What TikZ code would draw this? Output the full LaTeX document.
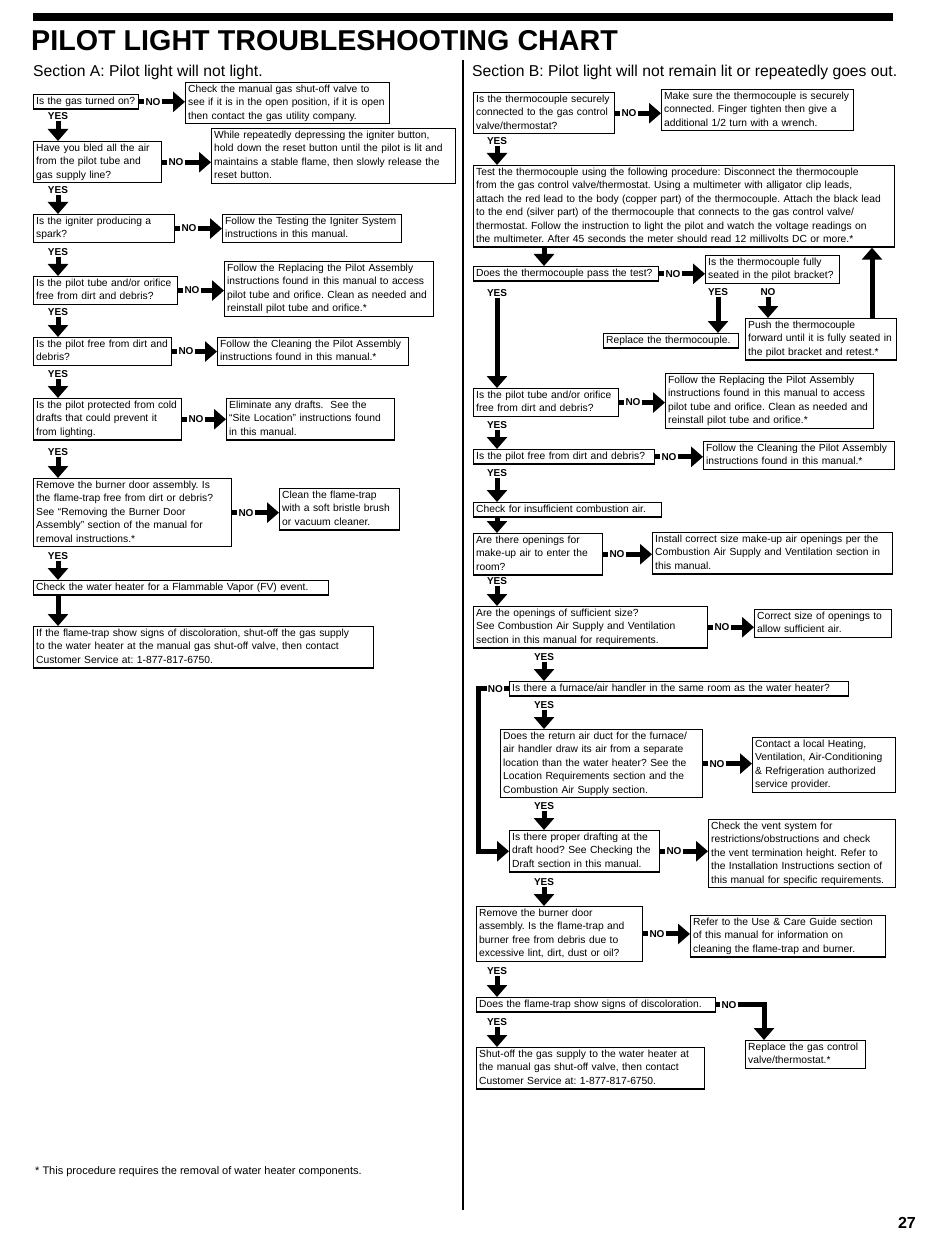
\documentclass[tikz,border=0pt]{standalone}
\usepackage{fontspec}
\setmainfont{Liberation Sans}
\usetikzlibrary{arrows.meta}
\usetikzlibrary{positioning}

\begin{document}
\begin{tikzpicture}[
      % un punto = un pixel della pagina, y verso il basso
      x=1pt,
      y=-1pt,
      line join=miter
  ]

  \tikzset{
      qbox/.style={draw, line width=1.3pt, anchor=north west, align=left,
                   inner xsep=2.5pt, inner ysep=0.5pt,
                   font=\fontsize{10.3}{13.4}\selectfont\frenchspacing,
                   execute at begin node=\strut, execute at end node=\strut},
      lab/.style={font=\bfseries\fontsize{10}{12}\selectfont, inner sep=1pt},
      fat/.style={line width=5pt, -{Triangle[width=20pt, length=12pt]}},
      bar/.style={line width=5pt}
  }

  \useasboundingbox (0,0) rectangle (950,1238);

  % Colonne delle frecce verticali
  \coordinate (ca) at (58,0);
  \coordinate (cb) at (497,0);
  \coordinate (cc) at (544,0);
  \coordinate (lx) at (478,0);
  \coordinate (ku) at (872,0);
  \coordinate (k13) at (764,0);

  % 1. Intestazione
  \fill (33,13) rectangle (893,21);
  \node[anchor=base west, inner sep=0, font=\bfseries\fontsize{28.7}{30}\selectfont] (titolo) at (31,51) {PILOT LIGHT TROUBLESHOOTING CHART};
  \node[anchor=base west, inner sep=0, font=\fontsize{15.7}{18}\selectfont] (secA) at (33,77) {Section A: Pilot light will not light.};
  \node[anchor=base west, inner sep=0, font=\fontsize{15.7}{18}\selectfont] (secB) at (472,77) {Section B: Pilot light will not remain lit or repeatedly goes out.};
  \draw[line width=1.5pt] (463,60) -- (463,1210);

  % 2. Sezione A
  \node[qbox, text width=100pt] (a1) at (33,94) {Is the gas turned on?};
  \node[qbox, text width=199pt] (a1n) at (185,82) {Check the manual gas shut-off valve to\\see if it is in the open position, if it is open\\then contact the gas utility company.};
  \node[qbox, text width=123pt] (a2) at (33,141) {Have you bled all the air\\from the pilot tube and\\gas supply line?};
  \node[qbox, text width=239pt] (a2n) at (211,128) {While repeatedly depressing the igniter button,\\hold down the reset button until the pilot is lit and\\maintains a stable flame, then slowly release the\\reset button.};
  \node[qbox, text width=136pt] (a3) at (33,214) {Is the igniter producing a\\spark?};
  \node[qbox, text width=174pt] (a3n) at (222,214) {Follow the Testing the Igniter System\\instructions in this manual.};
  \node[qbox, text width=139pt] (a4) at (33,276) {Is the pilot tube and/or orifice\\free from dirt and debris?};
  \node[qbox, text width=204pt] (a4n) at (224,261) {Follow the Replacing the Pilot Assembly\\instructions found in this manual to access\\pilot tube and orifice. Clean as needed and\\reinstall pilot tube and orifice.*};
  \node[qbox, text width=133pt] (a5) at (33,337) {Is the pilot free from dirt and\\debris?};
  \node[qbox, text width=186pt] (a5n) at (217,337) {Follow the Cleaning the Pilot Assembly\\instructions found in this manual.*};
  \node[qbox, text width=143pt] (a6) at (33,398) {Is the pilot protected from cold\\drafts that could prevent it\\from lighting.};
  \node[qbox, text width=163pt] (a6n) at (226,398) {Eliminate any drafts.\ \ See the\\``Site Location'' instructions found\\in this manual.};
  \node[qbox, text width=193pt] (a7) at (33,478) {Remove the burner door assembly. Is\\the flame-trap free from dirt or debris?\\See ``Removing the Burner Door\\Assembly'' section of the manual for\\removal instructions.*};
  \node[qbox, text width=115pt] (a7n) at (279,488) {Clean the flame-trap\\with a soft bristle brush\\or vacuum cleaner.};
  \node[qbox, text width=290pt] (a8) at (33,580) {Check the water heater for a Flammable Vapor (FV) event.};
  \node[qbox, text width=335pt] (a9) at (33,626) {If the flame-trap show signs of discoloration, shut-off the gas supply\\to the water heater at the manual gas shut-off valve, then contact\\Customer Service at: 1-877-817-6750.};

  % risposte NO
  \foreach \q in {a1,a2,a3,a4,a5,a6,a7}{
    \node[lab, right=5pt of \q] (\q no) {NO};
    \draw[bar] (\q.east) -- (\q no.west);
    \draw[fat] (\q no.east) -- (\q no.east -| \q n.west);
  }

  % risposte YES
  \node[lab] (a1y) at (58,116) {YES};
  \node[lab] (a2y) at (58,190) {YES};
  \node[lab] (a3y) at (58,252) {YES};
  \node[lab] (a4y) at (58,312) {YES};
  \node[lab] (a5y) at (58,374) {YES};
  \node[lab] (a6y) at (58,452) {YES};
  \node[lab] (a7y) at (58,556) {YES};
  \draw[fat] (a1y.south) -- (a1y.south |- a2.north);
  \draw[fat] (a2y.south) -- (a2y.south |- a3.north);
  \draw[fat] (a3y.south) -- (a3y.south |- a4.north);
  \draw[fat] (a4y.south) -- (a4y.south |- a5.north);
  \draw[fat] (a5y.south) -- (a5y.south |- a6.north);
  \draw[fat] (a6y.south) -- (a6y.south |- a7.north);
  \draw[fat] (a7y.south) -- (a7y.south |- a8.north);
  \draw[fat] (ca |- a8.south) -- (ca |- a9.north);

  % 3. Sezione B
  \node[qbox, text width=136pt] (b1) at (473,92) {Is the thermocouple securely\\connected to the gas control\\valve/thermostat?};
  \node[qbox, text width=187pt] (b1n) at (661,89) {Make sure the thermocouple is securely\\connected. Finger tighten then give a\\additional 1/2 turn with a wrench.};
  \node[qbox, text width=416pt] (b2) at (473,165) {Test the thermocouple using the following procedure: Disconnect the thermocouple\\from the gas control valve/thermostat. Using a multimeter with alligator clip leads,\\attach the red lead to the body (copper part) of the thermocouple. Attach the black lead\\to the end (silver part) of the thermocouple that connects to the gas control valve/\\thermostat. Follow the instruction to light the pilot and watch the voltage readings on\\the multimeter. After 45 seconds the meter should read 12 millivolts DC or more.*};
  \node[qbox, text width=180pt] (b3) at (473,266) {Does the thermocouple pass the test?};
  \node[qbox, text width=129pt] (b3n) at (705,255) {Is the thermocouple fully\\seated in the pilot bracket?};
  \node[qbox, text width=130pt] (b3r) at (603,333) {Replace the thermocouple.};
  \node[qbox, text width=146pt] (b3nn) at (745,318) {Push the thermocouple\\forward until it is fully seated in\\the pilot bracket and retest.*};
  \node[qbox, text width=140pt] (b4) at (473,388) {Is the pilot tube and/or orifice\\free from dirt and debris?};
  \node[qbox, text width=203pt] (b4n) at (665,373) {Follow the Replacing the Pilot Assembly\\instructions found in this manual to access\\pilot tube and orifice. Clean as needed and\\reinstall pilot tube and orifice.*};
  \node[qbox, text width=176pt] (b5) at (473,449) {Is the pilot free from dirt and debris?};
  \node[qbox, text width=186pt] (b5n) at (703,441) {Follow the Cleaning the Pilot Assembly\\instructions found in this manual.*};
  \node[qbox, text width=183pt] (b6) at (473,502) {Check for insufficient combustion air.};
  \node[qbox, text width=124pt] (b7) at (473,533) {Are there openings for\\make-up air to enter the\\room?};
  \node[qbox, text width=235pt] (b7n) at (652,532) {Install correct size make-up air openings per the\\Combustion Air Supply and Ventilation section in\\this manual.};
  \node[qbox, text width=229pt] (b8) at (473,606) {Are the openings of sufficient size?\\See Combustion Air Supply and Ventilation\\section in this manual for requirements.};
  \node[qbox, text width=132pt] (b8n) at (754,609) {Correct size of openings to\\allow sufficient air.};
  \node[qbox, text width=334pt] (b9) at (509,681) {Is there a furnace/air handler in the same room as the water heater?};
  \node[qbox, text width=197pt] (b10) at (500,729) {Does the return air duct for the furnace/\\air handler draw its air from a separate\\location than the water heater? See the\\Location Requirements section and the\\Combustion Air Supply section.};
  \node[qbox, text width=138pt] (b10n) at (752,737) {Contact a local Heating,\\Ventilation, Air-Conditioning\\\& Refrigeration authorized\\service provider.};
  \node[qbox, text width=145pt] (b11) at (509,830) {Is there proper drafting at the\\draft hood? See Checking the\\Draft section in this manual.};
  \node[qbox, text width=182pt] (b11n) at (708,819) {Check the vent system for\\restrictions/obstructions and check\\the vent termination height. Refer to\\the Installation Instructions section of\\this manual for specific requirements.};
  \node[qbox, text width=161pt] (b12) at (476,906) {Remove the burner door\\assembly. Is the flame-trap and\\burner free from debris due to\\excessive lint, dirt, dust or oil?};
  \node[qbox, text width=190pt] (b12n) at (690,915) {Refer to the Use \& Care Guide section\\of this manual for information on\\cleaning the flame-trap and burner.};
  \node[qbox, text width=234pt] (b13) at (476,997) {Does the flame-trap show signs of discoloration.};
  \node[qbox, text width=115pt] (b13n) at (745,1040) {Replace the gas control\\valve/thermostat.*};
  \node[qbox, text width=223pt] (b14) at (476,1047) {Shut-off the gas supply to the water heater at\\the manual gas shut-off valve, then contact\\Customer Service at: 1-877-817-6750.};

  % risposte NO
  \foreach \q in {b1,b3,b4,b5,b7,b8,b10,b11,b12}{
    \node[lab, right=5pt of \q] (\q no) {NO};
    \draw[bar] (\q.east) -- (\q no.west);
    \draw[fat] (\q no.east) -- (\q no.east -| \q n.west);
  }
  \node[lab, left=5pt of b9] (b9no) {NO};
  \draw[bar] (b9.west) -- (b9no.east);
  \draw[fat] (b9no.west) -- (b9no.west -| lx) |- (b11.west);
  \node[lab, right=4pt of b13] (b13no) {NO};
  \draw[bar] (b13.east) -- (b13no.west);
  \draw[fat] (b13no.east) -- (b13no.east -| k13) -- (k13 |- b13n.north);

  % risposte YES
  \node[lab] (b1y) at (497,141) {YES};
  \node[lab] (b3y) at (497,293) {YES};
  \node[lab] (b3ny) at (718,292) {YES};
  \node[lab] (b3nno) at (768,292) {NO};
  \node[lab] (b4y) at (497,425) {YES};
  \node[lab] (b5y) at (497,473) {YES};
  \node[lab] (b7y) at (497,581) {YES};
  \node[lab] (b8y) at (544,657) {YES};
  \node[lab] (b9y) at (544,705) {YES};
  \node[lab] (b10y) at (544,806) {YES};
  \node[lab] (b11y) at (544,882) {YES};
  \node[lab] (b12y) at (497,971) {YES};
  \node[lab] (b13y) at (497,1022) {YES};
  \draw[fat] (b1y.south) -- (b1y.south |- b2.north);
  \draw[fat] (cc |- b2.south) -- (cc |- b3.north);
  \draw[fat] (b3y.south) -- (b3y.south |- b4.north);
  \draw[fat] (b3ny.south) -- (b3ny.south |- b3r.north);
  \draw[fat] (b3nno.south) -- (b3nno.south |- b3nn.north);
  \draw[fat] (ku |- b3nn.north) -- (ku |- b2.south);
  \draw[fat] (b4y.south) -- (b4y.south |- b5.north);
  \draw[fat] (b5y.south) -- (b5y.south |- b6.north);
  \draw[fat] (cb |- b6.south) -- (cb |- b7.north);
  \draw[fat] (b7y.south) -- (b7y.south |- b8.north);
  \draw[fat] (b8y.south) -- (b8y.south |- b9.north);
  \draw[fat] (b9y.south) -- (b9y.south |- b10.north);
  \draw[fat] (b10y.south) -- (b10y.south |- b11.north);
  \draw[fat] (b11y.south) -- (b11y.south |- b12.north);
  \draw[fat] (b12y.south) -- (b12y.south |- b13.north);
  \draw[fat] (b13y.south) -- (b13y.south |- b14.north);

  % 4. Nota e numero di pagina
  \node[anchor=base west, inner sep=0, font=\fontsize{11}{13}\selectfont] (nota) at (35,1174) {* This procedure requires the removal of water heater components.};
  \node[anchor=base east, inner sep=0, font=\bfseries\fontsize{16}{18}\selectfont] (pagina) at (916,1228) {27};

\end{tikzpicture}
\end{document}
